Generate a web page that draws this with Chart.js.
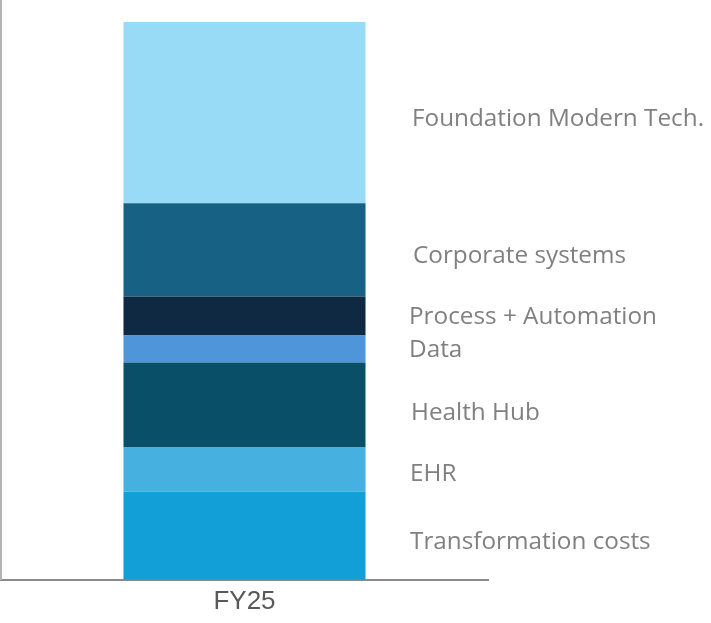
<!DOCTYPE html>
<html>
<head>
<meta charset="utf-8">
<script src="https://cdn.jsdelivr.net/npm/chart.js@4"></script>
<style>
  html, body { margin: 0; padding: 0; background: #fff; }
  #wrap { width: 711px; height: 623px; }
</style>
</head>
<body>
<div id="wrap"><canvas id="spend"></canvas></div>
<script>
// ── DATA ──────────────────────────────────────────
const categories    = ['FY25'];
const segmentNames  = ['Transformation costs', 'EHR', 'Health Hub', 'Data',
                       'Process + Automation', 'Corporate systems', 'Foundation Modern Tech.'];
const segmentValues = [88, 44, 85, 27, 39, 93, 181];
const segmentColors = ['#129FD7', '#46B0E1', '#0A4F68', '#4F95DA',
                       '#0F2942', '#166184', '#97DBF7'];
const yMax = 578;

// ── LABEL PLACEMENT ───────────────────────────────
// x of each side label, and baseline shift from the segment middle
const labelX  = [410, 410, 411, 409, 409, 413, 412];
const labelDy = [13, 11, 15, 8, 8, 13, 13];

const sideLabels = {
  id: 'sideLabels',
  afterDatasetsDraw(chart) {
    const ctx = chart.ctx;
    ctx.save();
    ctx.font = '24.3px "Open Sans"';
    ctx.fillStyle = '#808080';
    ctx.textAlign = 'left';
    ctx.textBaseline = 'alphabetic';
    segmentNames.forEach((name, i) => {
      const bar = chart.getDatasetMeta(i).data[0];
      const mid = (bar.y + bar.base) / 2;
      ctx.fillText(name, labelX[i], mid + labelDy[i]);
    });
    ctx.restore();
  }
};

new Chart(document.getElementById('spend'), {
  type: 'bar',
  data: {
    labels: categories,
    datasets: segmentNames.map((name, i) => ({
      label: name,
      data: [segmentValues[i]],
      backgroundColor: segmentColors[i],
      borderWidth: 0,
      barPercentage: 1,
      categoryPercentage: 0.497,
    }))
  },
  options: {
    responsive: true,
    maintainAspectRatio: false,
    animation: false,
    layout: { padding: { left: 1, right: 223, top: 1, bottom: 0 } },
    plugins: {
      legend: { display: false },
      tooltip: { enabled: false }
    },
    scales: {
      x: {
        stacked: true,
        z: 1,
        grid: { display: false, drawTicks: false },
        border: { display: true, color: '#8a8a8a', width: 2 },
        ticks: {
          color: '#595959',
          padding: 6,
          font: { family: '"Liberation Sans", Arial, sans-serif', size: 26 }
        }
      },
      y: {
        stacked: true,
        min: 0,
        max: yMax,
        grid: { display: false, drawTicks: false },
        border: { display: true, color: '#b4b4b4', width: 2 },
        ticks: { display: false }
      }
    }
  },
  plugins: [sideLabels]
});
</script>
</body>
</html>
